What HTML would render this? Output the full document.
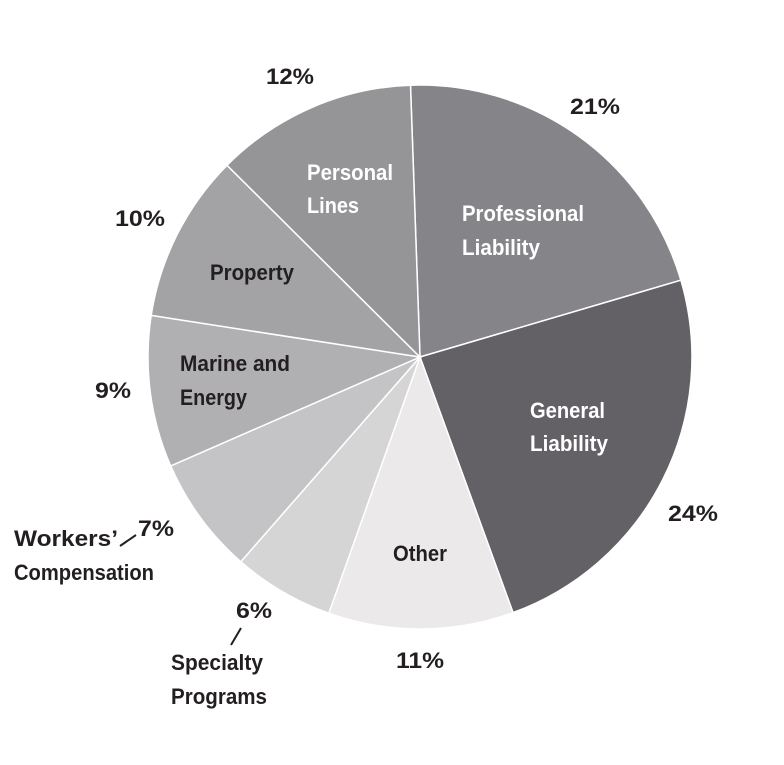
<!DOCTYPE html>
<html><head><style>
body{margin:0;background:#fff;}
svg text{font-family:"Liberation Sans",sans-serif;font-weight:bold;font-size:22px;}
</style></head><body>
<svg id="s" width="784" height="760" xmlns="http://www.w3.org/2000/svg">
<g id="p"></g>
<g fill="#231f20">
<text x="266" y="84" textLength="48" lengthAdjust="spacingAndGlyphs">12%</text>
<text x="570" y="114" textLength="50" lengthAdjust="spacingAndGlyphs">21%</text>
<text x="115" y="226" textLength="50" lengthAdjust="spacingAndGlyphs">10%</text>
<text x="95" y="398" textLength="36" lengthAdjust="spacingAndGlyphs">9%</text>
<text x="668" y="521" textLength="50" lengthAdjust="spacingAndGlyphs">24%</text>
<text x="138" y="536" textLength="36" lengthAdjust="spacingAndGlyphs">7%</text>
<text x="236" y="618" textLength="36" lengthAdjust="spacingAndGlyphs">6%</text>
<text x="396" y="668" textLength="48" lengthAdjust="spacingAndGlyphs">11%</text>
<text x="14" y="546" textLength="104" lengthAdjust="spacingAndGlyphs">Workers’</text>
<text x="14" y="580" textLength="140" lengthAdjust="spacingAndGlyphs">Compensation</text>
<text x="171" y="670" textLength="92" lengthAdjust="spacingAndGlyphs">Specialty</text>
<text x="171" y="704" textLength="96" lengthAdjust="spacingAndGlyphs">Programs</text>
<text x="210" y="280" textLength="84" lengthAdjust="spacingAndGlyphs">Property</text>
<text x="180" y="371" textLength="110" lengthAdjust="spacingAndGlyphs">Marine and</text>
<text x="180" y="405" textLength="67" lengthAdjust="spacingAndGlyphs">Energy</text>
<text x="393" y="561" textLength="54" lengthAdjust="spacingAndGlyphs">Other</text>
</g>
<g fill="#fff">
<text x="307" y="180" textLength="86" lengthAdjust="spacingAndGlyphs">Personal</text>
<text x="307" y="213" textLength="52" lengthAdjust="spacingAndGlyphs">Lines</text>
<text x="462" y="221" textLength="122" lengthAdjust="spacingAndGlyphs">Professional</text>
<text x="462" y="255" textLength="78" lengthAdjust="spacingAndGlyphs">Liability</text>
<text x="530" y="418" textLength="75" lengthAdjust="spacingAndGlyphs">General</text>
<text x="530" y="451" textLength="78" lengthAdjust="spacingAndGlyphs">Liability</text>
</g>
<line x1="120" y1="546" x2="136" y2="535" stroke="#231f20" stroke-width="2"/>
<line x1="231" y1="645" x2="241" y2="628" stroke="#231f20" stroke-width="2"/>
</svg>
<script>
var cx=420,cy=357,r=272,a=-2;
var d=[[21,"#858488"],[24,"#636166"],[11,"#ebe9ea"],[6,"#d6d5d6"],[7,"#c4c3c5"],[9,"#b0afb1"],[10,"#a3a2a4"],[12,"#959497"]];
var g=document.getElementById("p"),h="";
function pt(t){t=t*Math.PI/180;return (cx+r*Math.sin(t)).toFixed(1)+","+(cy-r*Math.cos(t)).toFixed(1);}
d.forEach(function(s){var b=a+s[0]*3.6;
h+='<path d="M'+cx+','+cy+' L'+pt(a)+' A'+r+','+r+' 0 '+(b-a>180?1:0)+' 1 '+pt(b)+' Z" fill="'+s[1]+'" stroke="#fff" stroke-width="1.5"/>';a=b;});
g.innerHTML=h;
</script>
</body></html>
